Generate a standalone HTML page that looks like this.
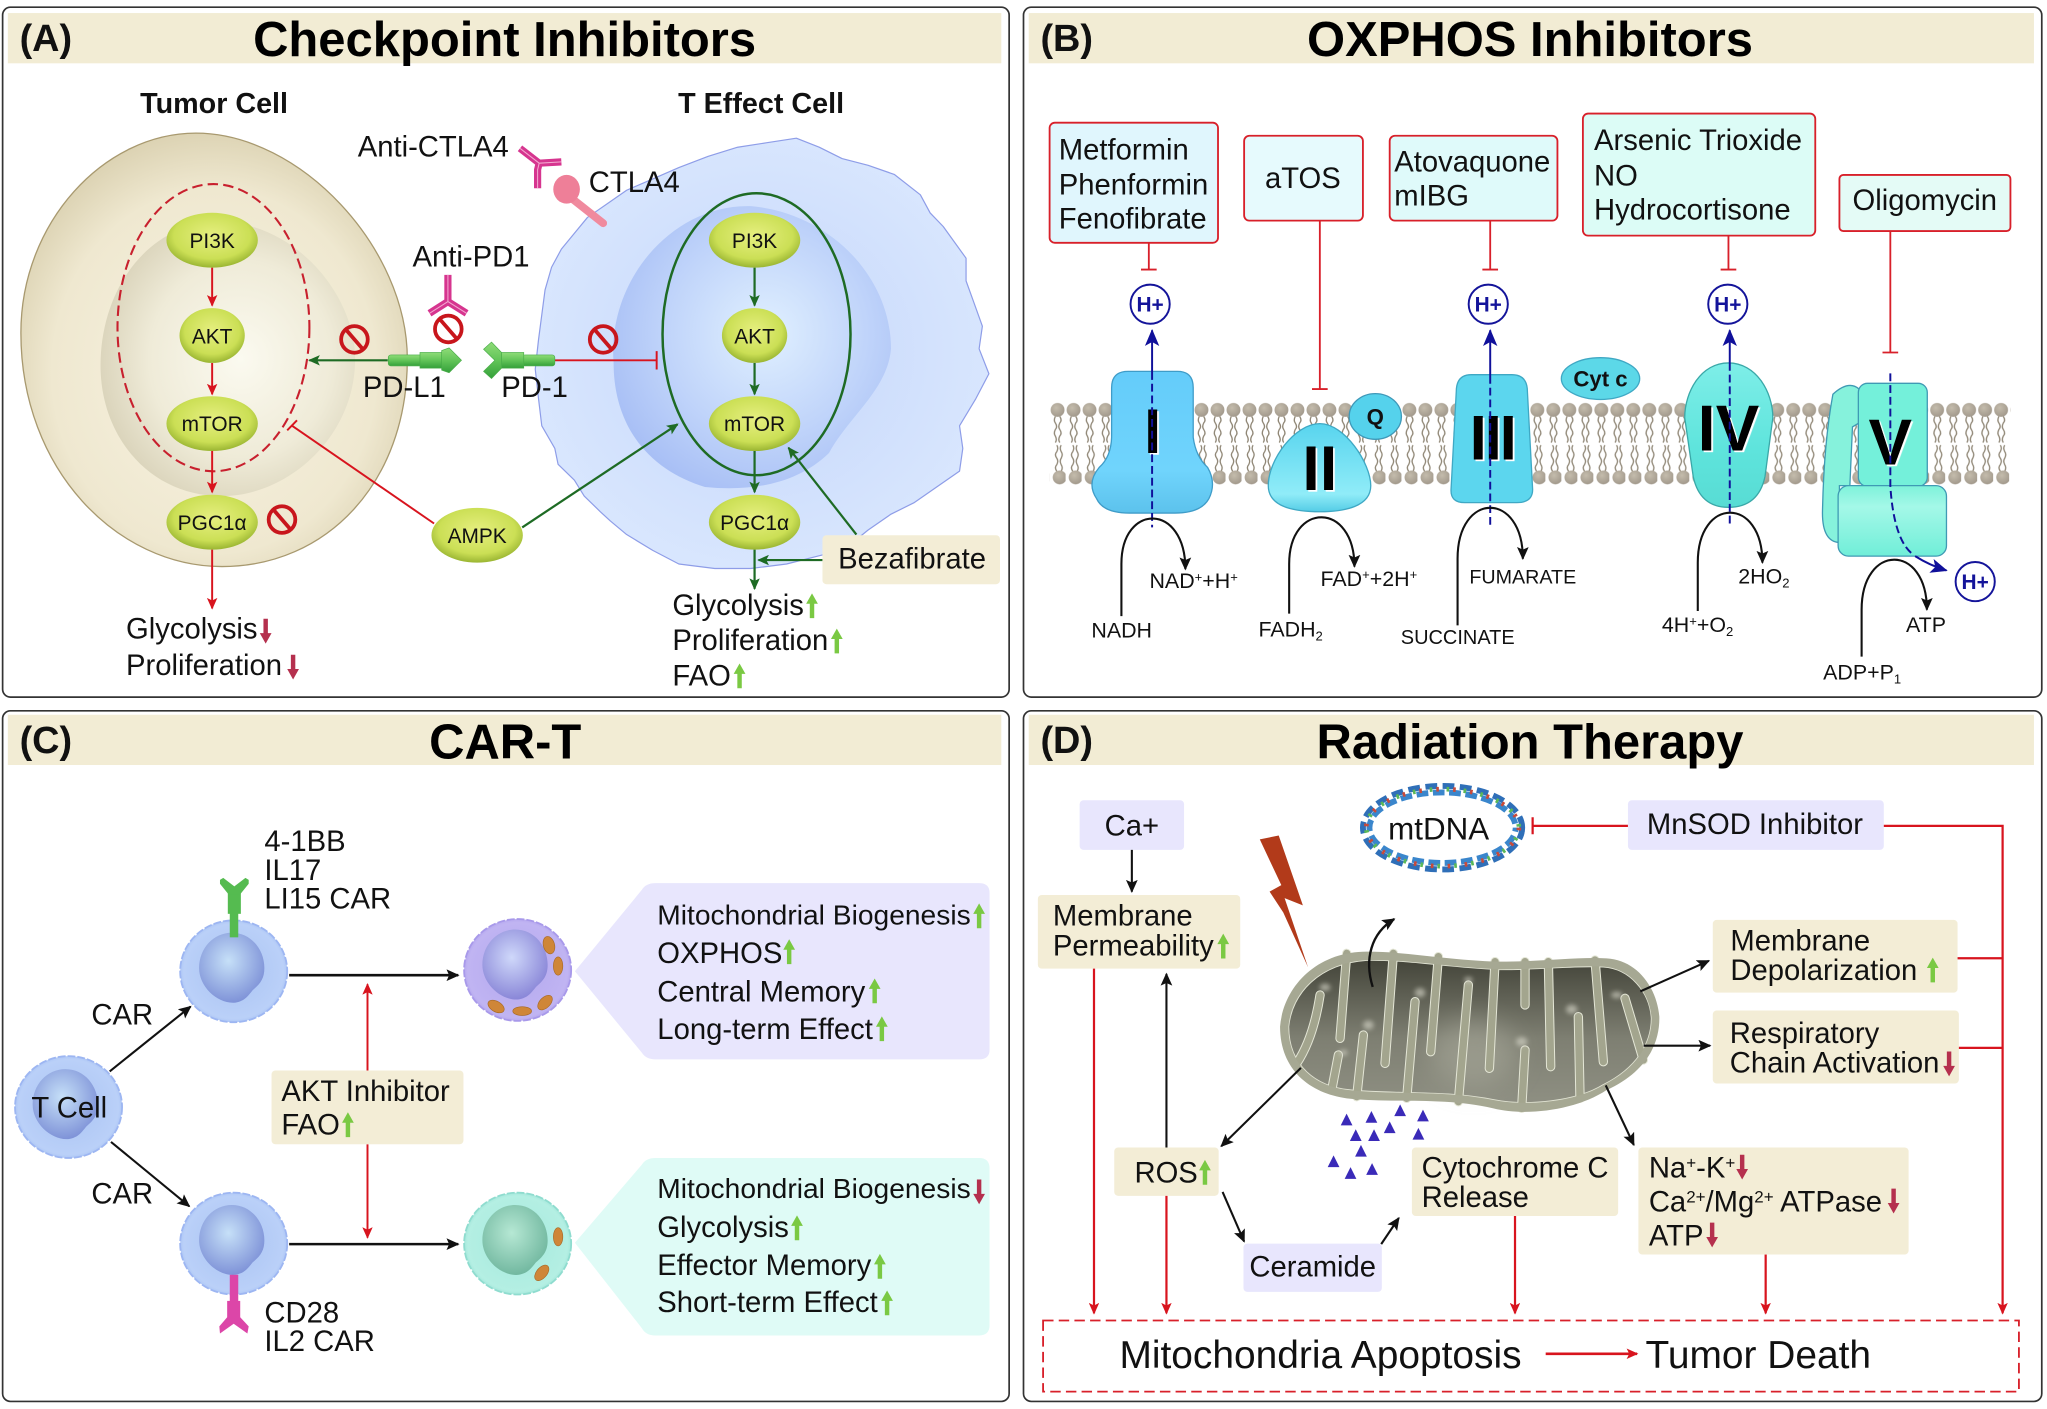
<!DOCTYPE html>
<html><head><meta charset="utf-8"><style>
html,body{margin:0;padding:0;background:#fff}
svg{display:block}
text{font-family:"Liberation Sans",sans-serif;font-size:22.4px;fill:#111}
.t{font-weight:bold;font-size:37.5px;text-anchor:middle;fill:#000}
.p{font-weight:bold;font-size:29px;fill:#111}
.h{font-weight:bold;font-size:22px;text-anchor:middle}
.n{font-size:16px;text-anchor:middle}
.s{font-size:16.4px}
.hp{font-weight:bold;font-size:16px;text-anchor:middle;fill:#14149a}
.r{font-weight:bold;text-anchor:middle;fill:#000;filter:url(#ws)}
.c{font-size:21.6px}
.red{stroke:#d8141e;stroke-width:1.5;fill:none}
.grn{stroke:#1e6b24;stroke-width:1.7;fill:none}
.blk{stroke:#111;stroke-width:1.6;fill:none}
.blu{stroke:#10109a;stroke-width:1.5;fill:none}
</style></head><body>
<svg xmlns="http://www.w3.org/2000/svg" width="2047" height="1409" viewBox="0 0 1568 1079.3">
<defs>
<filter id="ws" x="-20%" y="-20%" width="140%" height="140%"><feDropShadow dx="1.3" dy="1.3" stdDeviation="0" flood-color="#fff"/></filter>
<filter id="bl" x="-60%" y="-60%" width="220%" height="220%"><feGaussianBlur stdDeviation="7"/></filter>
<filter id="bl2" x="-80%" y="-80%" width="260%" height="260%"><feGaussianBlur stdDeviation="40"/></filter>
<marker id="mr" markerUnits="userSpaceOnUse" markerWidth="10" markerHeight="8" refX="8" refY="4" orient="auto"><path d="M0,0L9,4L0,8L2,4Z" fill="#d8141e"/></marker>
<marker id="mg" markerUnits="userSpaceOnUse" markerWidth="10" markerHeight="8" refX="8" refY="4" orient="auto"><path d="M0,0L9,4L0,8L2,4Z" fill="#1e6b24"/></marker>
<marker id="mk" markerUnits="userSpaceOnUse" markerWidth="11" markerHeight="9" refX="9" refY="4.5" orient="auto"><path d="M0,0L10,4.5L0,9L2,4.5Z" fill="#111"/></marker>
<marker id="mb" markerUnits="userSpaceOnUse" markerWidth="14" markerHeight="11" refX="12" refY="5.5" orient="auto"><path d="M0,0L13,5.5L0,11L3,5.5Z" fill="#10109a"/></marker>
<path id="up" d="M0,-9.5L4.5,-1.5L1.7,-1.5L1.7,9.5L-1.7,9.5L-1.7,-1.5L-4.5,-1.5Z" fill="#7ac943"/>
<path id="dn" d="M0,9.5L4.5,1.5L1.7,1.5L1.7,-9.5L-1.7,-9.5L-1.7,1.5L-4.5,1.5Z" fill="#b5304e"/>
<path id="kn" d="M0,-27C15,-27 25,-14 25,0C25,8 22,12 16,17C12,22 10,25 3,26.5C-10,28 -25,15 -25,0C-25,-15 -14,-27 0,-27Z"/>
<radialGradient id="gn" cx=".5" cy=".42" r=".6"><stop offset="0" stop-color="#e6ef80"/><stop offset=".7" stop-color="#cbdf55"/><stop offset="1" stop-color="#94b02e"/></radialGradient>
<radialGradient id="tu" cx=".5" cy=".55" r=".6"><stop offset="0" stop-color="#f8f3e2"/><stop offset=".7" stop-color="#efe8d0"/><stop offset="1" stop-color="#d6ccaa"/></radialGradient>
<radialGradient id="tn" cx=".55" cy=".5" r=".6"><stop offset="0" stop-color="#fbfaf0"/><stop offset=".6" stop-color="#efeBd8"/><stop offset="1" stop-color="#d6cfb5"/></radialGradient>
<radialGradient id="tc" cx=".5" cy=".5" r=".6"><stop offset="0" stop-color="#c4d6fb"/><stop offset="1" stop-color="#dce9fe"/></radialGradient>
<radialGradient id="te" cx=".55" cy=".45" r=".6"><stop offset="0" stop-color="#e0f0ff"/><stop offset=".6" stop-color="#c0d4fa"/><stop offset="1" stop-color="#a8bff5"/></radialGradient>
<radialGradient id="cb" cx=".5" cy=".5" r=".55"><stop offset="0" stop-color="#a9c3f3"/><stop offset=".85" stop-color="#bad0f8"/><stop offset="1" stop-color="#9dbaf2"/></radialGradient>
<radialGradient id="nb" cx=".45" cy=".4" r=".6"><stop offset="0" stop-color="#c6e0f8"/><stop offset="1" stop-color="#7f93d8"/></radialGradient>
<radialGradient id="cp" cx=".5" cy=".5" r=".55"><stop offset="0" stop-color="#b3a8ee"/><stop offset=".85" stop-color="#c0b4f2"/><stop offset="1" stop-color="#a899ea"/></radialGradient>
<radialGradient id="np" cx=".45" cy=".4" r=".6"><stop offset="0" stop-color="#cfd8fa"/><stop offset="1" stop-color="#8a87d8"/></radialGradient>
<radialGradient id="ct" cx=".5" cy=".5" r=".55"><stop offset="0" stop-color="#a4e8dc"/><stop offset=".85" stop-color="#b4efe3"/><stop offset="1" stop-color="#8fdccf"/></radialGradient>
<radialGradient id="nt" cx=".45" cy=".4" r=".6"><stop offset="0" stop-color="#b6e8d4"/><stop offset="1" stop-color="#72b8a0"/></radialGradient>
<linearGradient id="b1" x1="0" y1="0" x2="0" y2="1"><stop offset="0" stop-color="#64ccfa"/><stop offset=".7" stop-color="#70d4fc"/><stop offset="1" stop-color="#5cc2ec"/></linearGradient>
<linearGradient id="b2" x1="0" y1="0" x2="0" y2="1"><stop offset="0" stop-color="#58d4ee"/><stop offset=".8" stop-color="#90ecf8"/><stop offset="1" stop-color="#54cce6"/></linearGradient>
<linearGradient id="b3" x1="0" y1="0" x2="0" y2="1"><stop offset="0" stop-color="#7eeee8"/><stop offset=".6" stop-color="#5ee4dc"/><stop offset="1" stop-color="#58dcd4"/></linearGradient>
<linearGradient id="b4" x1="0" y1="0" x2="0" y2="1"><stop offset="0" stop-color="#7ef2da"/><stop offset=".3" stop-color="#a4f8e8"/><stop offset="1" stop-color="#70eed8"/></linearGradient>
<linearGradient id="gb" x1="0" y1="0" x2="0" y2="1"><stop offset="0" stop-color="#8fdc78"/><stop offset=".5" stop-color="#62c458"/><stop offset="1" stop-color="#34a03a"/></linearGradient>
<linearGradient id="mi" x1="0" y1="0" x2="0" y2="1"><stop offset="0" stop-color="#44453a"/><stop offset=".55" stop-color="#7e7f72"/><stop offset="1" stop-color="#8e8f82"/></linearGradient>
<radialGradient id="lh" cx=".4" cy=".35" r=".7"><stop offset="0" stop-color="#c4bcac"/><stop offset="1" stop-color="#a0978a"/></radialGradient>
<pattern id="lip" patternUnits="userSpaceOnUse" x="804" y="304" width="12.25" height="70">
<g fill="none" stroke="#8f8675" stroke-width="1"><path d="M4.4,15q-1.5,3 0,5q2,3 0,5q-1.5,3 0,5q1.5,3 0,5"/><path d="M7.8,15q2,3 0,5q-1.5,3 0,5q2,3 0,5q-1.5,3 0,5"/><path d="M5.5,57q-2,-3 0,-5q1.5,-3 0,-5q-2,-3 0,-5q1.5,-3 0,-5"/><path d="M8.9,57q1.5,-3 0,-5q-1.5,-3 0,-5q1.5,-3 0,-5q-1.5,-3 0,-5"/></g>
<circle cx="6.1" cy="10" r="5.3" fill="url(#lh)"/><circle cx="7.7" cy="61.7" r="5.3" fill="url(#lh)"/>
</pattern>
</defs>
<rect width="1568" height="1080" fill="#fff"/>

<!-- PANEL FRAMES -->
<g fill="#fff" stroke="#333" stroke-width="1.3">
<rect x="2" y="5.5" width="771" height="528.5" rx="6"/>
<rect x="784" y="5.5" width="780" height="528.5" rx="6"/>
<rect x="2" y="544.5" width="771" height="529" rx="6"/>
<rect x="784" y="544.5" width="780" height="529" rx="6"/>
</g>
<g fill="#f2ecd4">
<rect x="6" y="10" width="761" height="38.5"/><rect x="788" y="10" width="770" height="38.5"/>
<rect x="6" y="547.5" width="761" height="38.5"/><rect x="788" y="547.5" width="770" height="38.5"/>
</g>
<text class="t" x="386.5" y="43">Checkpoint Inhibitors</text>
<text class="t" x="1172" y="43">OXPHOS Inhibitors</text>
<text class="t" x="387" y="581">CAR-T</text>
<text class="t" x="1172" y="581">Radiation Therapy</text>
<text class="p" x="15" y="39">(A)</text><text class="p" x="797" y="39">(B)</text>
<text class="p" x="15" y="577">(C)</text><text class="p" x="797" y="577">(D)</text>

<!-- PANEL A -->
<path d="M150,102C230,102 312,190 312,275C312,370 250,434 170,434C90,434 16,360 16,255C16,170 80,102 150,102Z" fill="url(#tu)" stroke="#a8996f" stroke-width="1"/>
<path d="M168,170C225,170 272,225 272,275C272,335 220,380 170,380C115,380 77,335 77,280C77,220 115,170 168,170Z" fill="url(#tn)"/>
<g transform="scale(.5,.347)">
<path vector-effect="non-scaling-stroke" d="M1220,305L1255,325L1290,350L1330,365L1370,385L1410,430L1425,470L1445,500L1480,570L1480,620L1490,660L1505,720L1500,770L1515,825L1495,880L1470,940L1475,990L1470,1040L1435,1075L1400,1110L1365,1135L1330,1170L1300,1205L1260,1225L1205,1245L1150,1255L1095,1255L1040,1245L1000,1215L960,1180L935,1150L920,1130L895,1095L880,1060L855,1025L850,990L830,940L825,880L820,815L825,750L830,695L835,640L845,590L860,550L880,515L900,480L930,450L960,420L1000,395L1040,370L1085,345L1130,325L1175,315Z" fill="url(#tc)" stroke="#8e9de8" stroke-width="1.2" stroke-linejoin="round"/>
<path d="M1150,455C1270,470 1365,610 1365,770C1360,860 1300,920 1270,1000C1220,1070 1150,1085 1080,1075C1000,1040 940,950 940,800C930,620 1030,450 1150,455Z" fill="url(#te)"/>
</g>
<ellipse cx="163.5" cy="251" rx="73.5" ry="110" fill="none" stroke="#c8202e" stroke-width="1.6" stroke-dasharray="8 4"/>
<ellipse cx="579.5" cy="256" rx="72" ry="108" fill="none" stroke="#1e6b24" stroke-width="1.9"/>
<!-- arrows A -->
<path class="red" marker-end="url(#mr)" d="M162.5,205V234"/><path class="red" marker-end="url(#mr)" d="M162.5,278V302"/><path class="red" marker-end="url(#mr)" d="M162.5,345V377"/><path class="red" marker-end="url(#mr)" d="M162.5,421V466"/>
<path class="red" d="M425,276H503M503,269V283"/>
<path class="red" d="M332.5,401L223.5,326M220,329.6L227.5,322"/>
<path class="grn" marker-end="url(#mg)" d="M578,205V234"/><path class="grn" marker-end="url(#mg)" d="M578,278V302"/><path class="grn" marker-end="url(#mg)" d="M578,345V377"/><path class="grn" marker-end="url(#mg)" d="M578,421V451"/>
<path class="grn" marker-end="url(#mg)" d="M297,276H237"/>
<path class="grn" marker-end="url(#mg)" d="M400,404L519,325"/>
<path class="grn" marker-end="url(#mg)" d="M656,409.5L604,343"/>
<path class="grn" marker-end="url(#mg)" d="M630,429H581"/>
<!-- nodes A -->
<g fill="url(#gn)">
<ellipse cx="162.5" cy="184" rx="35" ry="21"/><ellipse cx="162.5" cy="257" rx="25" ry="21"/><ellipse cx="162.5" cy="324.5" rx="35" ry="21"/><ellipse cx="162.5" cy="400" rx="35" ry="21"/>
<ellipse cx="578" cy="184" rx="35" ry="21"/><ellipse cx="578" cy="257" rx="25" ry="21"/><ellipse cx="578" cy="324.5" rx="35" ry="21"/><ellipse cx="578" cy="400" rx="35" ry="21"/>
<ellipse cx="365.5" cy="410" rx="35" ry="21"/>
</g>
<text class="n" x="162.5" y="190">PI3K</text><text class="n" x="162.5" y="263">AKT</text><text class="n" x="162.5" y="330">mTOR</text><text class="n" x="162.5" y="406">PGC1α</text>
<text class="n" x="578" y="190">PI3K</text><text class="n" x="578" y="263">AKT</text><text class="n" x="578" y="330">mTOR</text><text class="n" x="578" y="406">PGC1α</text>
<text class="n" x="365.5" y="416">AMPK</text>
<!-- PD-L1 / PD-1 -->
<g fill="url(#gb)" stroke="#48ac48" stroke-width=".5">
<rect x="297.4" y="271.9" width="26" height="8.4" rx="2"/><rect x="321.7" y="270" width="17" height="12"/><path d="M338.3,268.5L344,266.5L353.5,276L344,285.5L338.3,283.5Z"/>
<rect x="400" y="271.9" width="25" height="8.4" rx="2"/><rect x="384.2" y="270" width="17" height="12"/><path d="M384.2,270L376.5,262L370.4,267.5L379,276L370.4,284.5L376.5,290L384.2,282Z"/>
</g>
<!-- antibodies -->
<g fill="none" stroke="#d6358f" stroke-width="5.5" stroke-linejoin="round"><path d="M398.3,113.6L413,125L430,124M413,125L411.8,130V144.2"/><path d="M343.1,210.6V231L329,240M343.1,231L357.4,240"/></g>
<g fill="none" stroke="#f3a8d0" stroke-width=".8" stroke-linejoin="round"><path d="M398.3,113.6L413,125L430,124M413,125L411.8,130V144.2"/><path d="M343.1,210.6V231L329,240M343.1,231L357.4,240"/></g>
<path d="M438,152L462,171" stroke="#f08a9e" stroke-width="6" stroke-linecap="round"/>
<ellipse cx="434" cy="145" rx="10.2" ry="11" fill="#ee7f98"/>
<!-- prohibition -->
<g fill="none" stroke="#c8161c" stroke-width="2.9">
<circle cx="271.5" cy="260" r="10.2"/><path d="M265,252.5L278,267.5"/>
<circle cx="343.4" cy="252" r="10.2"/><path d="M336.9,244.5L349.9,259.5"/>
<circle cx="462" cy="260" r="10.2"/><path d="M455.5,252.5L468.5,267.5"/>
<circle cx="216" cy="398" r="10.2"/><path d="M209.5,390.5L222.5,405.5"/>
</g>
<rect x="630" y="410" width="136" height="37.5" rx="3" fill="#f3edd6"/>
<text x="642" y="435.5">Bezafibrate</text>
<text class="h" x="164" y="86.5">Tumor Cell</text><text class="h" x="583" y="86.5">T Effect Cell</text>
<text x="274" y="120">Anti-CTLA4</text><text x="451" y="147">CTLA4</text><text x="316" y="204">Anti-PD1</text>
<text x="278" y="304">PD-L1</text><text x="384" y="304">PD-1</text>
<text x="96.5" y="489">Glycolysis</text><text x="96.5" y="517">Proliferation</text>
<text x="515" y="471">Glycolysis</text><text x="515" y="498">Proliferation</text><text x="515" y="525">FAO</text>
<use href="#dn" x="203.5" y="483.5"/><use href="#dn" x="224.5" y="511"/>
<use href="#up" x="622" y="464"/><use href="#up" x="641" y="491"/><use href="#up" x="566.5" y="517.7"/>

<!-- PANEL B -->
<rect x="804" y="304" width="736" height="70" fill="url(#lip)"/>
<g stroke="#d8202a" stroke-width="1.4">
<rect x="804" y="94" width="129" height="92" rx="4" fill="#e0f6fd"/>
<rect x="953" y="104" width="91" height="65" rx="4" fill="#e6fafd"/>
<rect x="1064.5" y="104" width="128.5" height="65" rx="4" fill="#dffafa"/>
<rect x="1212.5" y="87" width="178" height="93.5" rx="4" fill="#dcfcf6"/>
<rect x="1409" y="134" width="131" height="43" rx="3" fill="#e4fbf6"/>
<path fill="none" d="M880,186V206.5M874,206.5H886M1011,169V298M1005,298H1017M1141.5,169V206.5M1135.5,206.5H1147.5M1324,180.5V206.5M1318,206.5H1330M1448,177V270M1442,270H1454"/>
</g>
<text x="811" y="122">Metformin</text><text x="811" y="149">Phenformin</text><text x="811" y="175">Fenofibrate</text>
<text x="998" y="144" text-anchor="middle">aTOS</text>
<text x="1068" y="131.5">Atovaquone</text><text x="1068" y="157.5">mIBG</text>
<text x="1221" y="115">Arsenic Trioxide</text><text x="1221" y="142">NO</text><text x="1221" y="168">Hydrocortisone</text>
<text x="1419" y="161">Oligomycin</text>
<!-- complexes -->
<path d="M851.5,297Q851.5,284.5 864,284.5L902,284.5Q914,284.5 914,297L914,335Q916,350 925,358Q932,370 926,382Q920,393 900,393L865,393Q845,393 840,382Q832,370 842,358Q851,350 851.5,335Z" fill="url(#b1)" stroke="#3f9cc8" stroke-width="1"/>
<path d="M1011,324.5C1030,324.5 1050,355 1050,372C1050,388 1030,392 1011,392C990,392 971.5,388 971.5,372C971.5,352 992,324.5 1011,324.5Z" fill="url(#b2)" stroke="#3fa8c4" stroke-width="1"/>
<ellipse cx="1053.5" cy="319" rx="20" ry="17.5" fill="#55d2ec" stroke="#3f98b8"/>
<path d="M1127,287L1158,287Q1170,287 1170,300L1174,375Q1174,385 1162,385L1122,385Q1111,385 1111.5,375L1115.5,300Q1115.5,287 1127,287Z" fill="#5cd6ee" stroke="#3fa8c4"/>
<ellipse cx="1226" cy="290" rx="30" ry="16" fill="#5cd8e8" stroke="#3fa8c4"/>
<path d="M1324,278C1345,278 1358,300 1358,320L1352,365Q1347,388.6 1324,388.6Q1302,388.6 1297,365L1290.5,320C1290.5,300 1303,278 1324,278Z" fill="url(#b3)" stroke="#3aa8a8"/>
<path d="M1404,302Q1416,291 1424,298L1424,324L1419,327L1417,372L1409,372L1409,415.6Q1396,415 1396,393Q1397,340 1404,302Z" fill="#86f2dc" stroke="#3f9ab4"/>
<rect x="1423.5" y="293.6" width="52.8" height="79" rx="7" fill="#74f0da" stroke="#3f9ab4"/>
<rect x="1408" y="372" width="83" height="54" rx="8" fill="url(#b4)" stroke="#3f9ab4"/>
<text class="r" x="883" y="347" style="font-size:48px">I</text>
<text class="r" x="1011" y="375.5" style="font-size:48px">II</text>
<text class="r" x="1143" y="352" style="font-size:48px;letter-spacing:-1.8px">III</text>
<text class="r" x="1324" y="345" style="font-size:50px">IV</text>
<text class="r" x="1448" y="356" style="font-size:50px">V</text>
<text x="1053.5" y="325" style="font-weight:bold;font-size:17px;text-anchor:middle">Q</text>
<text x="1226" y="296" style="font-weight:bold;font-size:17px;text-anchor:middle">Cyt c</text>
<!-- blue lines -->
<path class="blu" marker-end="url(#mb)" d="M882.5,285V253"/><path class="blu" stroke-dasharray="6 3" d="M882.5,285V404"/>
<path class="blu" marker-end="url(#mb)" d="M1141.5,288V253"/><path class="blu" stroke-dasharray="6 3" d="M1141.5,288V404"/>
<path class="blu" marker-end="url(#mb)" d="M1325,278V253"/><path class="blu" stroke-dasharray="6 3" d="M1325,278V404"/>
<path class="blu" stroke-dasharray="6 3" d="M1448,286V372C1450,405 1458,420 1466,425"/>
<path class="blu" marker-end="url(#mb)" d="M1467,426Q1478,433 1491,437"/>
<g fill="#fff" stroke="#14149a" stroke-width="1.5">
<circle cx="881" cy="233" r="15"/><circle cx="1140" cy="233" r="15"/><circle cx="1323.5" cy="233" r="15"/><circle cx="1513" cy="445.5" r="15"/>
</g>
<text class="hp" x="881" y="238.5">H+</text><text class="hp" x="1140" y="238.5">H+</text><text class="hp" x="1323.5" y="238.5">H+</text><text class="hp" x="1513" y="451">H+</text>
<!-- black curves -->
<path class="blk" marker-end="url(#mk)" d="M859,472V432C859,385 908,385 908,436"/>
<path class="blk" marker-end="url(#mk)" d="M987.5,470V432C987.5,384 1037.5,384 1037.5,434"/>
<path class="blk" marker-end="url(#mk)" d="M1116.5,479V428C1116.5,376 1166.5,376 1166.5,428"/>
<path class="blk" marker-end="url(#mk)" d="M1300.5,468V431C1300.5,380 1350,380 1350,431"/>
<path class="blk" marker-end="url(#mk)" d="M1426,503V467C1426,416 1476,416 1476,467"/>
<text class="s" x="836" y="488.5">NADH</text>
<text class="s" x="880.5" y="450.4">NAD<tspan dy="-5" font-size="10">+</tspan><tspan dy="5">+H</tspan><tspan dy="-5" font-size="10">+</tspan></text>
<text class="s" x="1011.5" y="448.7">FAD<tspan dy="-5" font-size="10">+</tspan><tspan dy="5">+2H</tspan><tspan dy="-5" font-size="10">+</tspan></text>
<text class="s" x="964" y="487.5">FADH<tspan dy="3" font-size="10">2</tspan></text>
<text class="s" x="1125.5" y="447" style="font-size:15.1px">FUMARATE</text>
<text class="s" x="1073" y="493.5" style="font-size:15.3px">SUCCINATE</text>
<text class="s" x="1331.5" y="447">2HO<tspan dy="3" font-size="10">2</tspan></text>
<text class="s" x="1273" y="484">4H<tspan dy="-5" font-size="10">+</tspan><tspan dy="5">+O</tspan><tspan dy="3" font-size="10">2</tspan></text>
<text class="s" x="1460" y="484">ATP</text>
<text class="s" x="1396.5" y="520.5">ADP+P<tspan dy="3" font-size="10">1</tspan></text>

<!-- PANEL C -->
<path d="M441,744L492,682Q495,677 502,677H750Q757.5,677 757.5,684V804Q757.5,811 750,811H502Q495,811 492,806Z" fill="#e8e6fd" stroke="#e8e6fd"/>
<path d="M441,952L492,892.5Q495,887.5 502,887.5H750Q757.5,887.5 757.5,895V1015Q757.5,1022.5 750,1022.5H502Q495,1022.5 492,1017Z" fill="#dffbf6" stroke="#dffbf6"/>
<!-- cells -->
<g stroke-width="1.4" stroke-dasharray="6 1.5">
<ellipse cx="52.5" cy="848" rx="41" ry="39" fill="url(#cb)" stroke="#9db6f2"/>
<ellipse cx="179" cy="744" rx="41" ry="39" fill="url(#cb)" stroke="#9db6f2"/>
<ellipse cx="179" cy="952.6" rx="41" ry="39" fill="url(#cb)" stroke="#9db6f2"/>
<ellipse cx="396.5" cy="743" rx="41" ry="39" fill="url(#cp)" stroke="#a899ea"/>
<ellipse cx="396.5" cy="952.6" rx="41" ry="39" fill="url(#ct)" stroke="#8fdccf"/>
</g>
<use href="#kn" x="50" y="846" fill="url(#nb)"/>
<use href="#kn" x="177.5" y="741.5" fill="url(#nb)"/>
<use href="#kn" x="177.5" y="950" fill="url(#nb)"/>
<use href="#kn" x="394.5" y="739" fill="url(#np)"/>
<use href="#kn" x="394.5" y="950" fill="url(#nt)"/>
<!-- receptors -->
<g fill="#55bb50"><rect x="176" y="699" width="6.5" height="19"/><rect x="174.5" y="684" width="10" height="16"/><path d="M168.5,674L171,672.5L179.5,679L188,672.5L190.5,674L190.5,677L184,685L175,685L168.5,677Z"/></g>
<g fill="#dc46a8"><rect x="176" y="976.5" width="6.5" height="21"/><rect x="174" y="996.5" width="10" height="14"/><path d="M174,1009L184,1009L190.5,1016L189.5,1021.5L179,1014L168.5,1021.5L168,1016Z"/></g>
<g fill="#cf8638" stroke="#a86a28" stroke-width=".5">
<ellipse cx="420.5" cy="724" rx="4.3" ry="6.8" transform="rotate(-15 420.5 724)"/><ellipse cx="427.5" cy="740" rx="3.6" ry="7"/>
<ellipse cx="417.5" cy="768" rx="4" ry="6.8" transform="rotate(45 417.5 768)"/><ellipse cx="400" cy="774.5" rx="7.2" ry="3.4"/><ellipse cx="380" cy="771" rx="6.8" ry="4" transform="rotate(30 380 771)"/>
<ellipse cx="427.5" cy="947.4" rx="3.6" ry="7"/><ellipse cx="415" cy="975" rx="4" ry="7" transform="rotate(40 415 975)"/>
</g>
<path class="blk" marker-end="url(#mk)" d="M84,820.7L146,771"/>
<path class="blk" marker-end="url(#mk)" d="M85,874.7L145,924"/>
<path class="blk" style="stroke-width:2" marker-end="url(#mk)" d="M221.5,747H351"/>
<path class="blk" style="stroke-width:2" marker-end="url(#mk)" d="M221.5,953H351"/>
<path class="red" marker-end="url(#mr)" d="M281.5,820V754"/>
<path class="red" marker-end="url(#mr)" d="M281.5,876.5V948"/>
<rect x="208" y="820" width="147" height="56.5" rx="3" fill="#f3edd6"/>
<text x="215.5" y="843.5">AKT Inhibitor</text><text x="215.5" y="869">FAO</text>
<use href="#up" x="266.5" y="861.5"/>
<text x="202.5" y="652">4-1BB</text><text x="202.5" y="674">IL17</text><text x="202.5" y="696">LI15 CAR</text>
<text x="202.5" y="1013">CD28</text><text x="202.5" y="1035">IL2 CAR</text>
<text x="70" y="784.6">CAR</text><text x="70" y="922">CAR</text>
<text x="24" y="856">T Cell</text>
<text class="c" x="503.5" y="708">Mitochondrial Biogenesis</text><text x="503.5" y="737.5">OXPHOS</text><text x="503.5" y="767">Central Memory</text><text x="503.5" y="796">Long-term Effect</text>
<text class="c" x="503.5" y="917.6">Mitochondrial Biogenesis</text><text x="503.5" y="947.4">Glycolysis</text><text x="503.5" y="976.5">Effector Memory</text><text x="503.5" y="1005">Short-term Effect</text>
<use href="#up" x="750" y="701.5"/><use href="#up" x="604.5" y="729"/><use href="#up" x="670" y="759"/><use href="#up" x="675.5" y="788"/>
<use href="#dn" x="750" y="913"/><use href="#up" x="610.5" y="940.5"/><use href="#up" x="674" y="970"/><use href="#up" x="679.5" y="998"/>

<!-- PANEL D -->
<g fill="#e8e6fd">
<rect x="827" y="613" width="80" height="38" rx="3"/><rect x="1247" y="613" width="196" height="38" rx="3"/><rect x="952.5" y="952.6" width="106" height="37" rx="3"/>
</g>
<g fill="#f3edd6">
<rect x="795" y="685.6" width="155" height="56.4" rx="3"/><rect x="1312" y="704.6" width="187.5" height="55.8" rx="3"/><rect x="1312" y="774" width="188.5" height="56" rx="3"/>
<rect x="853.5" y="879" width="80" height="37" rx="3"/><rect x="1081.5" y="879" width="158" height="52.5" rx="3"/><rect x="1255" y="879" width="207" height="82" rx="3"/>
</g>
<!-- red lines D -->
<path class="red" style="stroke-width:1.7" d="M1247,632.6H1174M1174,626V639"/>
<path class="red" style="stroke-width:1.7" marker-end="url(#mr)" d="M1443,632.6H1534V1006"/>
<path class="red" style="stroke-width:1.7" d="M1499.5,734H1534M1500.5,802.7H1534"/>
<path class="red" style="stroke-width:1.7" marker-end="url(#mr)" d="M838,742V1006"/>
<path class="red" style="stroke-width:1.7" marker-end="url(#mr)" d="M893.5,916V1006"/>
<path class="red" style="stroke-width:1.7" marker-end="url(#mr)" d="M1160.5,931.5V1006"/>
<path class="red" style="stroke-width:1.7" marker-end="url(#mr)" d="M1352.5,961V1006"/>
<path class="red" style="stroke-width:2" marker-end="url(#mr)" d="M1184,1037H1254"/>
<rect x="799" y="1011.5" width="747.5" height="54.5" fill="none" stroke="#d8202a" stroke-width="1.4" stroke-dasharray="8 4"/>
<text x="857.5" y="1048" style="font-size:29.8px">Mitochondria Apoptosis</text>
<text x="1260.5" y="1048" style="font-size:29.8px">Tumor Death</text>
<!-- mtDNA -->
<ellipse cx="1105" cy="634" rx="61" ry="32" fill="none" stroke="#2f6fb8" stroke-width="4.5" stroke-dasharray="9 4.2"/>
<ellipse cx="1105" cy="634" rx="56" ry="27" fill="none" stroke="#3a86cc" stroke-width="4.5" stroke-dasharray="9 3.5" stroke-dashoffset="6"/>
<ellipse cx="1105" cy="634" rx="58.5" ry="29.5" fill="none" stroke="#c84a3a" stroke-width="3.5" stroke-dasharray="2 11"/>
<ellipse cx="1105" cy="634" rx="58.5" ry="29.5" fill="none" stroke="#5ab858" stroke-width="3.5" stroke-dasharray="2 11" stroke-dashoffset="5"/>
<text x="1102" y="643" style="font-size:24px;text-anchor:middle">mtDNA</text>
<!-- bolt -->
<path d="M965,643L979.5,640L998,693.5L984,688L1002,741L983,699L972.5,683L981.5,678Z" fill="#b23a1a"/>
<!-- mitochondrion -->
<g transform="translate(965.2,712.4) scale(.2553)">
<path d="M85,290C95,190 175,100 320,90C450,88 550,110 720,118C850,118 950,105 1030,110C1110,115 1170,185 1175,265C1175,340 1130,415 1030,465C950,515 800,530 700,510C550,480 400,495 265,480C170,470 85,410 85,290Z" fill="url(#mi)" stroke="#e2e4d4" stroke-width="5"/>
<ellipse cx="640" cy="370" rx="130" ry="100" fill="#aeafa0" opacity=".5" filter="url(#bl2)"/>
<g fill="none" stroke-linecap="round" stroke-linejoin="round" stroke="#e4e6d6" stroke-width="28">
<path d="M260,70L240,325M400,70L375,400M535,80L512,365M705,95L688,415M795,95V225M865,95L872,410M1005,90L1030,395M110,400C150,340 170,260 180,195M215,480L235,375M290,500L310,315M440,505L465,215M595,515L625,165M785,535L795,360M960,505L955,260M1150,390L1095,205"/>
</g>
<g fill="none" stroke-linecap="round" stroke-linejoin="round" stroke="#a3a58e" stroke-width="22">
<path d="M260,70L240,325M400,70L375,400M535,80L512,365M705,95L688,415M795,95V225M865,95L872,410M1005,90L1030,395M110,400C150,340 170,260 180,195M215,480L235,375M290,500L310,315M440,505L465,215M595,515L625,165M785,535L795,360M960,505L955,260M1150,390L1095,205"/>
</g>
<g fill="#d4d4c6" filter="url(#bl)" opacity=".65">
<ellipse cx="195" cy="172" rx="16" ry="11"/><ellipse cx="325" cy="285" rx="16" ry="14"/><ellipse cx="480" cy="188" rx="16" ry="14"/><ellipse cx="625" cy="150" rx="13" ry="9"/><ellipse cx="785" cy="335" rx="17" ry="14"/><ellipse cx="935" cy="238" rx="17" ry="14"/><ellipse cx="1070" cy="195" rx="17" ry="10"/><ellipse cx="250" cy="368" rx="13" ry="9"/>
</g>
<path fill-rule="evenodd" d="M60,290C70,170 170,65 320,65C450,65 550,90 720,95C850,95 950,80 1040,85C1130,90 1190,170 1198,260C1200,350 1150,430 1040,480C950,540 800,560 700,535C550,500 400,520 260,505C150,490 60,420 60,290ZM85,290C85,410 170,470 265,480C400,495 550,480 700,510C800,530 950,515 1030,465C1130,415 1175,340 1175,265C1170,185 1110,115 1030,110C950,105 850,118 720,118C550,110 450,88 320,90C175,100 95,190 85,290Z" fill="#a6a893"/>
</g>
<!-- black D -->
<path class="blk" marker-end="url(#mk)" d="M867,651V683"/>
<path class="blk" marker-end="url(#mk)" d="M893.5,879V746"/>
<path class="blk" marker-end="url(#mk)" d="M996.5,818L935.5,878"/>
<path class="blk" marker-end="url(#mk)" d="M936.5,913L953,951"/>
<path class="blk" marker-end="url(#mk)" d="M1058,953L1071.5,933"/>
<path class="blk" marker-end="url(#mk)" d="M1256.5,759.4L1309,736"/>
<path class="blk" marker-end="url(#mk)" d="M1259,801H1310"/>
<path class="blk" marker-end="url(#mk)" d="M1230,831.4L1251.5,877"/>
<path class="blk" style="stroke-width:1.8" marker-end="url(#mk)" d="M1051.5,756C1045,735 1050,715 1068,704"/>
<g fill="#3a2ab8">
<path d="M1031.5,853L1036,862H1027Z"/><path d="M1050.5,851L1055,860H1046Z"/><path d="M1072.5,846L1077,855H1068Z"/><path d="M1090,850L1094.5,859H1085.5Z"/><path d="M1038.5,865L1043,874H1034Z"/><path d="M1052.5,865L1057,874H1048Z"/><path d="M1064.5,859L1069,868H1060Z"/><path d="M1086.5,864L1091,873H1082Z"/><path d="M1042.5,877L1047,886H1038Z"/><path d="M1021.5,885L1026,894H1017Z"/><path d="M1034.5,894L1039,903H1030Z"/><path d="M1051,891L1055.5,900H1046.5Z"/>
</g>
<text x="867" y="640" text-anchor="middle">Ca+</text>
<text x="1261.5" y="639">MnSOD Inhibitor</text>
<text x="806.5" y="709">Membrane</text><text x="806.5" y="732">Permeability</text>
<text x="1325.5" y="728">Membrane</text><text x="1325.5" y="750.7">Depolarization</text>
<text x="1325" y="799">Respiratory</text><text x="1325" y="821.7">Chain Activation</text>
<text x="869" y="906">ROS</text>
<text x="1089" y="902">Cytochrome C</text><text x="1089" y="924.5">Release</text>
<text x="957" y="978">Ceramide</text>
<text x="1263" y="902">Na<tspan dy="-7" font-size="13">+</tspan><tspan dy="7">-K</tspan><tspan dy="-7" font-size="13">+</tspan></text>
<text x="1263" y="928">Ca<tspan dy="-7" font-size="13">2+</tspan><tspan dy="7">/Mg</tspan><tspan dy="-7" font-size="13">2+</tspan><tspan dy="7"> ATPase</tspan></text>
<text x="1263" y="954">ATP</text>
<use href="#up" x="937" y="724.7"/><use href="#up" x="1480.5" y="743"/><use href="#dn" x="1493" y="815"/><use href="#up" x="923" y="898"/>
<use href="#dn" x="1334.5" y="894"/><use href="#dn" x="1450.5" y="920"/><use href="#dn" x="1311.5" y="946"/>
</svg>
</body></html>
